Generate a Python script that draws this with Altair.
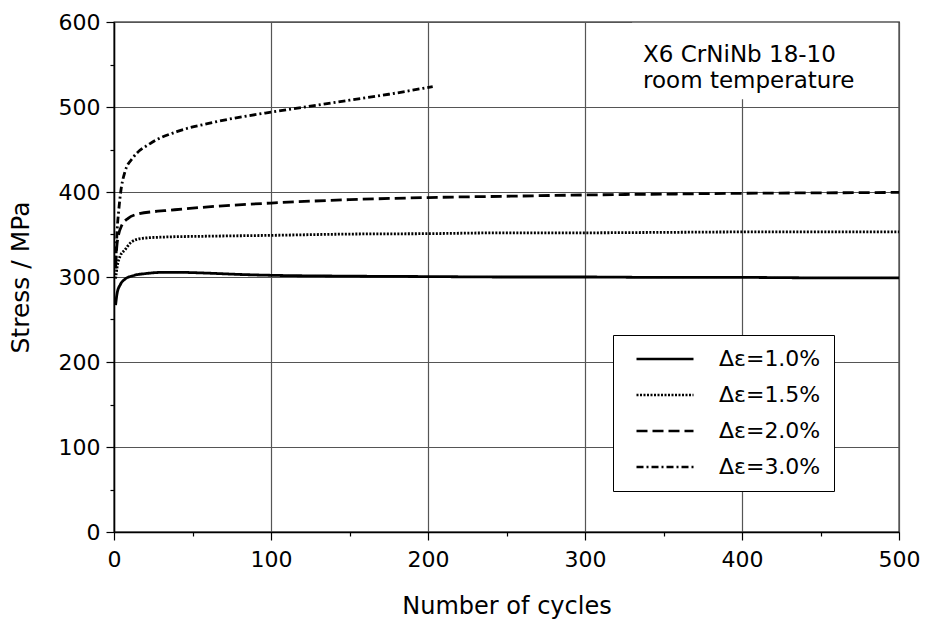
import altair as alt
import pandas as pd

series_names = ["Δε=1.0%", "Δε=1.5%", "Δε=2.0%", "Δε=3.0%"]

cycles_10 = [1, 2, 4, 7, 13, 20, 32, 40, 60, 80, 100, 150, 200, 250, 300, 350, 400, 450, 500]
stress_10 = [267, 281, 291, 297.5, 302, 304, 305.5, 305.5, 304.5, 303, 302, 301, 300.5, 300, 300, 299.5, 299.5, 299, 299]

cycles_15 = [1, 2, 4, 7, 11, 18, 32, 60, 100, 150, 200, 250, 300, 350, 400, 450, 500]
stress_15 = [298, 312, 325, 332, 341, 345.5, 347, 348, 349, 350.5, 351, 352, 352, 352.5, 353, 353, 353]

cycles_20 = [1, 2, 5, 9, 15, 26, 32, 60, 100, 150, 200, 250, 300, 350, 400, 450, 500]
stress_20 = [312, 340, 361, 369, 374, 377, 378, 382.5, 387, 391, 393.5, 395, 396.5, 397.5, 398.5, 399, 399.5]

cycles_30 = [1, 2, 3, 4, 7, 12, 23, 40, 61, 100, 118, 150, 175, 203]
stress_30 = [310, 355, 378, 396, 424, 440, 457, 471, 481, 494, 499, 508, 515, 524]

dash_patterns = [[1, 0], [2, 1.5], [11, 5], [7, 3, 2, 3]]

x_ticks = list(range(0, 501, 50))
y_ticks = list(range(0, 601, 50))

annotation_text = "X6 CrNiNb 18-10\nroom temperature"

rows = []
for name, cs, ss in zip(series_names,
                        [cycles_10, cycles_15, cycles_20, cycles_30],
                        [stress_10, stress_15, stress_20, stress_30]):
    for i, (c, s) in enumerate(zip(cs, ss)):
        rows.append({"series": name, "cycle": c, "stress": s, "order": i})
df = pd.DataFrame(rows)

FONT = "DejaVu Sans"
major_test = "datum.value % 100 === 0"

x_axis = alt.Axis(
    values=x_ticks,
    labelExpr=f"{major_test} ? datum.label : ''",
    tickSize={"condition": {"test": major_test, "value": 8}, "value": 4},
    grid=True,
    gridColor={"condition": {"test": major_test, "value": "#555555"}, "value": "transparent"},
    title="Number of cycles",
    labelFontSize=22, titleFontSize=24, labelPadding=9, titlePadding=24,
    labelFlush=False,
)
y_axis = alt.Axis(
    values=y_ticks,
    labelExpr=f"{major_test} ? datum.label : ''",
    tickSize={"condition": {"test": major_test, "value": 8}, "value": 4},
    grid=True,
    gridColor={"condition": {"test": major_test, "value": "#555555"}, "value": "transparent"},
    title="Stress / MPa",
    labelFontSize=22, titleFontSize=25, labelPadding=6, titlePadding=25,
    labelFlush=False,
)

x_enc = alt.X("cycle:Q", scale=alt.Scale(domain=[0, 500], nice=False, zero=False), axis=x_axis)
y_enc = alt.Y("stress:Q", scale=alt.Scale(domain=[0, 600], nice=False), axis=y_axis)

lines = alt.Chart(df).mark_line(color="black", strokeWidth=2.8, interpolate="monotone").encode(
    x=x_enc,
    y=y_enc,
    order="order:Q",
    strokeDash=alt.StrokeDash(
        "series:N",
        scale=alt.Scale(domain=series_names, range=dash_patterns),
        legend=alt.Legend(
            title=None, orient="none", legendX=499, legendY=313,
            symbolType="M-3,0H3", symbolSize=361, symbolStrokeWidth=2.6,
            symbolStrokeColor="black", symbolFillColor="transparent",
            symbolOffset=28, labelOffset=43,
            labelFontSize=22, labelFont=FONT, labelColor="black", labelLimit=300,
            rowPadding=14, padding=13, strokeColor="black", fillColor="white",
            cornerRadius=0,
        ),
    ),
)

box = alt.Chart().mark_rect(fill="white", strokeWidth=0).encode(
    x=alt.datum(330), x2=alt.datum(499.2),
    y=alt.datum(509), y2=alt.datum(599),
)

note = alt.Chart().mark_text(
    align="left", baseline="alphabetic", lineBreak="\n", lineHeight=26,
    fontSize=23, font=FONT, color="black",
).encode(
    x=alt.datum(337), y=alt.datum(553), text=alt.value(annotation_text)
)

chart = alt.layer(lines, box, note).properties(
    width=785, height=510,
    autosize=alt.AutoSizeParams(type="none"),
    padding={"left": 114, "top": 22, "right": 26, "bottom": 89},
    background="white",
).configure_view(
    stroke="black", strokeWidth=1.3
).configure_axis(
    labelFont=FONT, titleFont=FONT, labelColor="black", titleColor="black",
    titleFontWeight="normal", domainColor="black", domainWidth=1.5,
    tickColor="black", tickWidth=1.2, gridWidth=1.2,
)

chart.save("out.html", embed_options={"renderer": "svg", "actions": False})
